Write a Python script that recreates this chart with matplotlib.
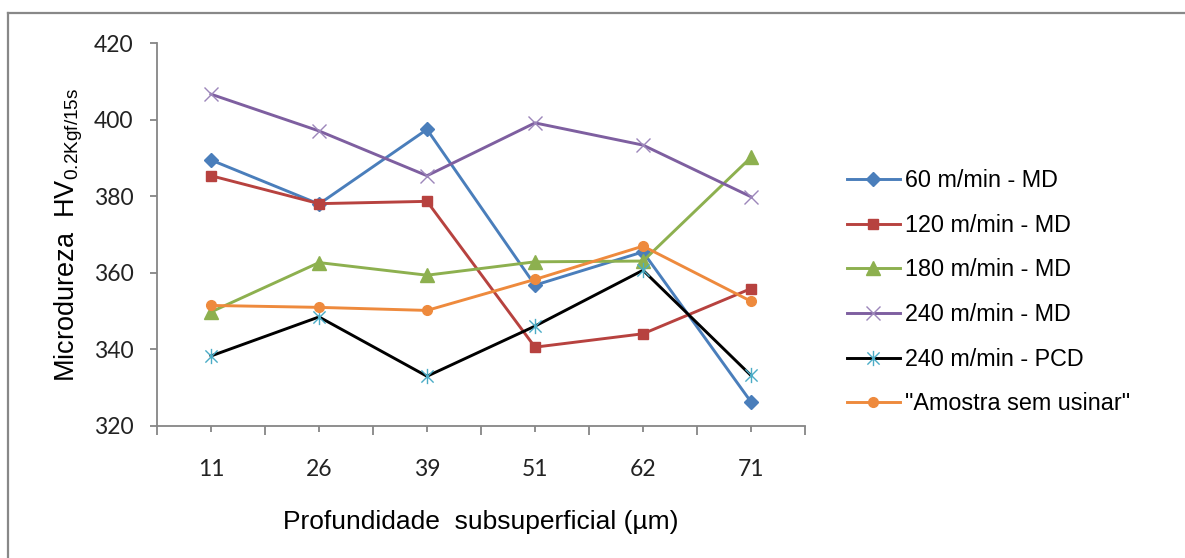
import matplotlib
matplotlib.use("Agg")
import matplotlib.pyplot as plt
from matplotlib.path import Path
from matplotlib.lines import Line2D
from matplotlib.ticker import FixedLocator

# Depth below the machined surface (µm) and hardness readings per condition
depths = ["11", "26", "39", "51", "62", "71"]
hv_60_md = [389.5, 378.0, 397.5, 356.8, 365.5, 326.3]
hv_120_md = [385.4, 378.1, 378.7, 340.6, 344.1, 355.9]
hv_180_md = [349.8, 362.7, 359.4, 362.9, 363.1, 390.2]
hv_240_md = [406.7, 397.1, 385.4, 399.2, 393.4, 379.9]
hv_240_pcd = [338.3, 348.5, 333.0, 346.1, 360.7, 333.2]
hv_sem_usinar = [351.5, 351.0, 350.2, 358.3, 367.0, 352.6]

labels = ["60 m/min - MD", "120 m/min - MD", "180 m/min - MD",
          "240 m/min - MD", "240 m/min - PCD", "\"Amostra sem usinar\""]

# Star marker: an X crossed by a vertical bar
star = Path([(0, -1), (0, 1), (-0.8, -0.8), (0.8, 0.8), (-0.8, 0.8), (0.8, -0.8)],
            [Path.MOVETO, Path.LINETO, Path.MOVETO, Path.LINETO, Path.MOVETO, Path.LINETO])

styles = [
    dict(color="#4A7EBB", marker="D", ms=6.8, mfc="#4A7EBB", mec="#4A7EBB"),
    dict(color="#B7423F", marker="s", ms=6.8, mfc="#B7423F", mec="#B7423F"),
    dict(color="#8DB04F", marker="^", ms=10.5, mfc="#8DB04F", mec="#8DB04F"),
    dict(color="#7E5FA0", marker="x", ms=9.5, mfc="none", mec="#9C86BA", mew=1.0),
    dict(color="#000000", marker=star, ms=11, mfc="none", mec="#4BACC6", mew=1.0),
    dict(color="#EE8A3D", marker="o", ms=7.0, mfc="#EE8A3D", mec="#EE8A3D"),
]
series = [hv_60_md, hv_120_md, hv_180_md, hv_240_md, hv_240_pcd, hv_sem_usinar]

fig = plt.figure(figsize=(11.85, 5.58), dpi=100)
ax = fig.add_axes([157 / 1185, 132 / 558, 648 / 1185, 382.7 / 558])

x = list(range(len(depths)))
handles = []
for vals, st, lab in zip(series, styles, labels):
    (h,) = ax.plot(x, vals, lw=2.1, label=lab, solid_joinstyle="round", **st)
    handles.append(h)

ax.set_xlim(-0.5, len(depths) - 0.5)
ax.set_ylim(320, 420)
ax.set_yticks([320, 340, 360, 380, 400, 420])

# Category axis: long ticks between categories, short ticks at each category
ax.xaxis.set_major_locator(FixedLocator([i - 0.5 for i in range(len(depths) + 1)]))
ax.xaxis.set_minor_locator(FixedLocator(x))
ax.set_xticklabels([""] * (len(depths) + 1))
ax.set_xticks(x, depths, minor=True)

for s in ("top", "right"):
    ax.spines[s].set_visible(False)
for s in ("left", "bottom"):
    ax.spines[s].set_color("#868686")
    ax.spines[s].set_linewidth(1.3)

ax.tick_params(axis="x", which="major", direction="out", length=6.5, width=1.3, color="#868686")
ax.tick_params(axis="x", which="minor", direction="out", length=4.5, width=1.3, color="#868686",
               pad=19, labelsize=16.5)
ax.tick_params(axis="y", which="major", direction="out", length=5, width=1.3, color="#868686",
               pad=12, labelsize=16.5)
for t in ax.get_xticklabels(minor=True) + ax.get_yticklabels():
    t.set_fontfamily("Lato")
    t.set_color("#222222")

ax.set_xlabel("Profundidade  subsuperficial (µm)", fontsize=19, family="Liberation Sans",
              labelpad=21.5)
ax.set_ylabel(r"Microdureza  HV$_{\mathregular{0.2Kgf/15s}}$", fontsize=19.5,
              family="Liberation Sans", labelpad=6)

leg = fig.legend(handles=handles, loc="upper left", bbox_to_anchor=(847 / 1185, 1 - 169 / 558),
                 frameon=False, prop=dict(family="Liberation Sans", size=16.8),
                 handlelength=2.25, handletextpad=0.25, labelspacing=0.93,
                 borderpad=0, borderaxespad=0)

# Outer frame of the chart area
fig.add_artist(Line2D([8 / 1185, 1.0], [1 - 13 / 558, 1 - 13 / 558], color="#888888", lw=1.6,
                      transform=fig.transFigure))
fig.add_artist(Line2D([8 / 1185, 8 / 1185], [0, 1 - 13 / 558], color="#888888", lw=1.6,
                      transform=fig.transFigure))

fig.savefig("out.png", dpi=100)
